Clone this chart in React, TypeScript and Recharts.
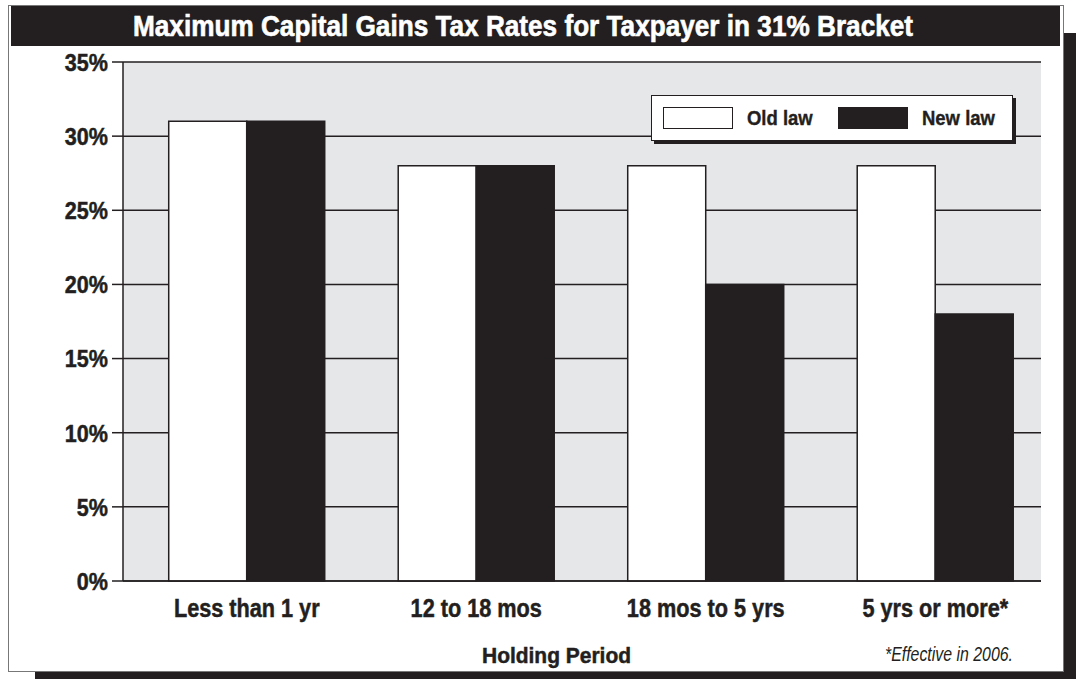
import React from 'react';
import { BarChart, Bar, XAxis, YAxis, CartesianGrid, Legend } from 'recharts';

const periods = ['Less than 1 yr', '12 to 18 mos', '18 mos to 5 yrs', '5 yrs or more*'];
const oldLaw = [31, 28, 28, 28];
const newLaw = [31, 28, 20, 18];
const rateTicks = [0, 5, 10, 15, 20, 25, 30, 35];
const seriesOrder = ['old', 'new'];

const data = periods.map((p, i) => ({ period: p, old: oldLaw[i], new: newLaw[i] }));

const INK = '#231f20';
const FONT = "'Liberation Sans', Arial, sans-serif";

// condensed look: regular bold face squeezed horizontally, thin stroke for weight
const YTick = (props: any) => {
  const { x, y, payload } = props;
  return (
    <text
      transform={`translate(${x},${y}) scale(0.88,1)`}
      textAnchor="end"
      dy={8.8}
      fill={INK}
      stroke={INK}
      strokeWidth={0.5}
      fontFamily={FONT}
      fontWeight="bold"
      fontSize={24.5}
    >
      {`${payload.value}%`}
    </text>
  );
};

const XTick = (props: any) => {
  const { x, y, payload } = props;
  return (
    <text
      transform={`translate(${x},${y}) scale(0.85,1)`}
      textAnchor="middle"
      dy={18.3}
      fill={INK}
      stroke={INK}
      strokeWidth={0.5}
      fontFamily={FONT}
      fontWeight="bold"
      fontSize={25.5}
    >
      {payload.value}
    </text>
  );
};

const LegendBox = (props: any) => {
  const items = [...(props.payload || [])].sort(
    (a: any, b: any) => seriesOrder.indexOf(a.dataKey) - seriesOrder.indexOf(b.dataKey)
  );
  return (
    <div
      style={{
        width: 362,
        height: 46,
        boxSizing: 'border-box',
        background: '#fff',
        border: `1.5px solid ${INK}`,
        boxShadow: `3px 3px 0 ${INK}`,
        display: 'flex',
        alignItems: 'center',
        paddingLeft: 11,
        fontFamily: FONT,
        fontWeight: 'bold',
        fontSize: 21,
        color: INK,
        whiteSpace: 'nowrap',
        WebkitTextStroke: `0.4px ${INK}`,
      }}
    >
      {items.map((it: any, i: number) => (
        <div key={i} style={{ display: 'flex', alignItems: 'center', width: 181 }}>
          <div
            style={{
              width: 70,
              height: 22,
              boxSizing: 'border-box',
              background: it.payload.fill,
              border: `1.5px solid ${INK}`,
              marginRight: 14,
              flex: 'none',
            }}
          />
          <span style={{ display: 'inline-block', transform: 'scaleX(0.88)', transformOrigin: 'left center' }}>
            {it.value}
          </span>
        </div>
      ))}
    </div>
  );
};

const App: React.FC = () => {
  return (
    <div style={{ position: 'absolute', left: 0, top: 0, width: 1076, height: 679 }}>
      {/* drop shadow + frame */}
      <div style={{ position: 'absolute', left: 35, top: 33, width: 1041, height: 646, background: INK }} />
      <div
        style={{
          position: 'absolute',
          left: 8,
          top: 5,
          width: 1054,
          height: 665,
          background: '#fff',
          border: '1px solid #777',
        }}
      />
      <div style={{ position: 'absolute', left: 11, top: 6, width: 1049, height: 40, background: INK }} />

      <div style={{ position: 'absolute', left: 0, top: 0 }}>
        <BarChart
          width={1076}
          height={679}
          data={data}
          margin={{ top: 62, right: 35, bottom: 58, left: 63 }}
          barGap={0}
          barCategoryGap="16%"
        >
          <CartesianGrid vertical={false} fill="#e6e7e8" stroke={INK} strokeWidth={1.5} />
          <XAxis
            dataKey="period"
            height={40}
            padding={{ left: 9, right: -9 }}
            tickLine={false}
            axisLine={{ stroke: INK, strokeWidth: 1.5 }}
            tick={<XTick />}
            tickMargin={12}
          />
          <YAxis
            width={60}
            domain={[0, 35]}
            ticks={rateTicks}
            interval={0}
            tickSize={11}
            tickMargin={4}
            tickLine={{ stroke: INK, strokeWidth: 1.5 }}
            axisLine={{ stroke: INK, strokeWidth: 1.5 }}
            tick={<YTick />}
          />
          <YAxis
            yAxisId="right"
            orientation="right"
            width={0}
            domain={[0, 35]}
            tick={false}
            tickLine={false}
            axisLine={{ stroke: INK, strokeWidth: 1.5 }}
          />
          <Legend
            layout="horizontal"
            verticalAlign="middle"
            align="center"
            content={<LegendBox />}
            wrapperStyle={{ position: 'absolute', left: 651, top: 95, width: 'auto' }}
          />
          <Bar dataKey="old" name="Old law" fill="#ffffff" stroke={INK} strokeWidth={1.5} isAnimationActive={false} />
          <Bar dataKey="new" name="New law" fill={INK} stroke={INK} strokeWidth={1.5} isAnimationActive={false} />
        </BarChart>
      </div>

      <svg
        width={1076}
        height={679}
        style={{ position: 'absolute', left: 0, top: 0, pointerEvents: 'none' }}
      >
        <text
          x={523}
          y={36}
          textAnchor="middle"
          fill="#fff"
          stroke="#fff"
          strokeWidth={0.6}
          fontFamily={FONT}
          fontWeight="bold"
          fontSize={29}
          textLength={780}
          lengthAdjust="spacingAndGlyphs"
        >
          Maximum Capital Gains Tax Rates for Taxpayer in 31% Bracket
        </text>
        <text
          x={556.5}
          y={663}
          textAnchor="middle"
          fill={INK}
          stroke={INK}
          strokeWidth={0.5}
          fontFamily={FONT}
          fontWeight="bold"
          fontSize={22.5}
          textLength={149}
          lengthAdjust="spacingAndGlyphs"
        >
          Holding Period
        </text>
        <text
          x={885}
          y={661}
          fill={INK}
          fontFamily={FONT}
          fontStyle="italic"
          fontSize={19.5}
          textLength={128}
          lengthAdjust="spacingAndGlyphs"
        >
          *Effective in 2006.
        </text>
      </svg>
    </div>
  );
};

export default App;
